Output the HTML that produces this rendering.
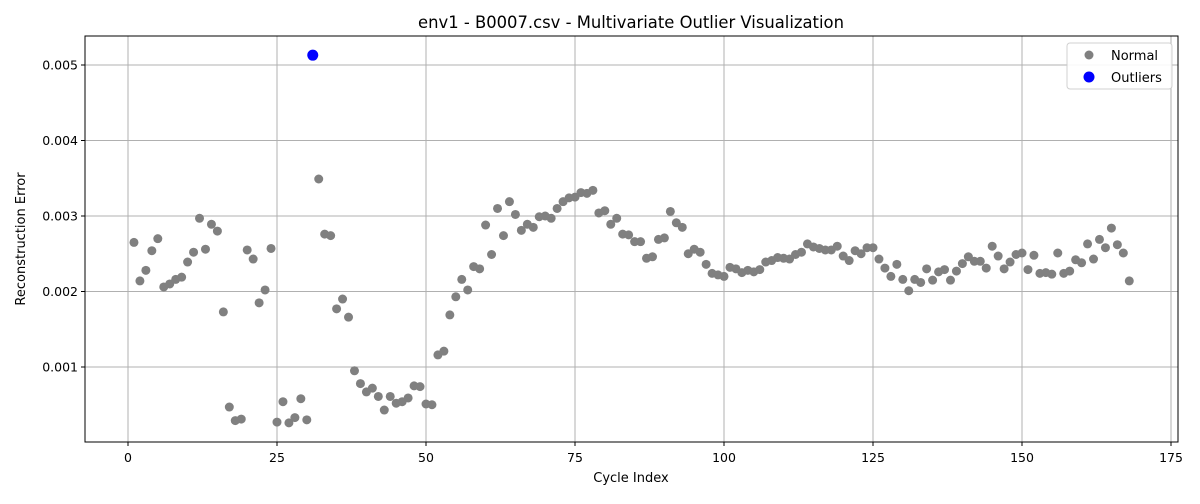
<!DOCTYPE html>
<html><head><meta charset="utf-8"><style>
body{margin:0;background:#fff;font-family:"DejaVu Sans","Liberation Sans",sans-serif}
svg text{font-family:"DejaVu Sans","Liberation Sans",sans-serif;fill:#000}
</style></head><body>
<svg id="chart" width="1200" height="500" xmlns="http://www.w3.org/2000/svg">
<rect width="1200" height="500" fill="#fff"/>
<g id="grid"></g>
<g id="pts"></g>
<rect x="85" y="36" width="1093" height="406" fill="none" stroke="#000" stroke-width="1"/>
<g id="xt"></g><g id="yt"></g>
<text x="631" y="28" font-size="16.4" text-anchor="middle">env1 - B0007.csv - Multivariate Outlier Visualization</text>
<text x="631" y="482" font-size="13" text-anchor="middle">Cycle Index</text>
<text transform="translate(25,239) rotate(-90)" font-size="13" text-anchor="middle">Reconstruction Error</text>
<g>
<rect x="1067" y="43" width="105" height="46" rx="3" fill="#fff" stroke="#ccc" opacity="0.9"/>
<g><circle cx="1089" cy="55" r="4.5" fill="#808080"/><text x="1111" y="60" font-size="13">Normal</text></g>
<g><circle cx="1089" cy="77" r="5.5" fill="#0000ff"/><text x="1111" y="82" font-size="13">Outliers</text></g>
</g>
</svg>
<script>
const errors=[2.65,2.14,2.28,2.54,2.70,2.06,2.10,2.16,2.19,2.39,2.52,2.97,2.56,2.89,2.80,1.73,0.47,0.29,0.31,2.55,2.43,1.85,2.02,2.57,0.27,0.54,0.26,0.33,0.58,0.30,5.13,3.49,2.76,2.74,1.77,1.90,1.66,0.95,0.78,0.67,0.72,0.61,0.43,0.61,0.52,0.54,0.59,0.75,0.74,0.51,0.50,1.16,1.21,1.69,1.93,2.16,2.02,2.33,2.30,2.88,2.49,3.10,2.74,3.19,3.02,2.81,2.89,2.85,2.99,3.00,2.97,3.10,3.19,3.24,3.25,3.31,3.30,3.34,3.04,3.07,2.89,2.97,2.76,2.75,2.66,2.66,2.44,2.46,2.69,2.71,3.06,2.91,2.85,2.50,2.56,2.52,2.36,2.24,2.22,2.20,2.32,2.30,2.25,2.28,2.26,2.29,2.39,2.41,2.45,2.44,2.43,2.49,2.52,2.63,2.59,2.57,2.55,2.55,2.60,2.47,2.41,2.54,2.50,2.58,2.58,2.43,2.31,2.20,2.36,2.16,2.01,2.16,2.12,2.30,2.15,2.26,2.29,2.15,2.27,2.37,2.46,2.40,2.40,2.31,2.60,2.47,2.30,2.39,2.49,2.51,2.29,2.48,2.24,2.25,2.23,2.51,2.24,2.27,2.42,2.38,2.63,2.43,2.69,2.58,2.84,2.62,2.51,2.14];
const outlierIdx=[31];
const xTicks=[0,25,50,75,100,125,150,175];
const yTicks=[0.001,0.002,0.003,0.004,0.005];
const NS="http://www.w3.org/2000/svg";
const X=v=>128+(v)*5.96;
const Y=v=>442.5-v*75500;
function mk(t,a,p){const e=document.createElementNS(NS,t);for(const k in a)e.setAttribute(k,a[k]);p.appendChild(e);return e;}
const grid=document.getElementById('grid'),xt=document.getElementById('xt'),yt=document.getElementById('yt'),pts=document.getElementById('pts');
xTicks.forEach(t=>{const x=X(t);
const g=mk('line',{x1:x,x2:x,y1:36,y2:442,stroke:'#b0b0b0','stroke-width':1},grid);


mk('line',{x1:x,x2:x,y1:442,y2:446,stroke:'#000'},xt);
const l=mk('text',{x:x,y:462,'font-size':12.5,'text-anchor':'middle'},xt);l.textContent=t;

});
yTicks.forEach(t=>{const y=Y(t);
const g=mk('line',{x1:85,x2:1178,y1:y,y2:y,stroke:'#b0b0b0','stroke-width':1},grid);


mk('line',{x1:81,x2:85,y1:y,y2:y,stroke:'#000'},yt);
const l=mk('text',{x:78,y:y+4.5,'font-size':12.5,'text-anchor':'end'},yt);l.textContent=t.toFixed(3);

});
errors.forEach((v,i)=>{const idx=i+1;const out=outlierIdx.includes(idx);
const c=mk('circle',{cx:X(idx),cy:Y(v/1000),r:out?5.5:4.5,fill:out?'#0000ff':'#808080'},pts);

});
</script>
</body></html>
